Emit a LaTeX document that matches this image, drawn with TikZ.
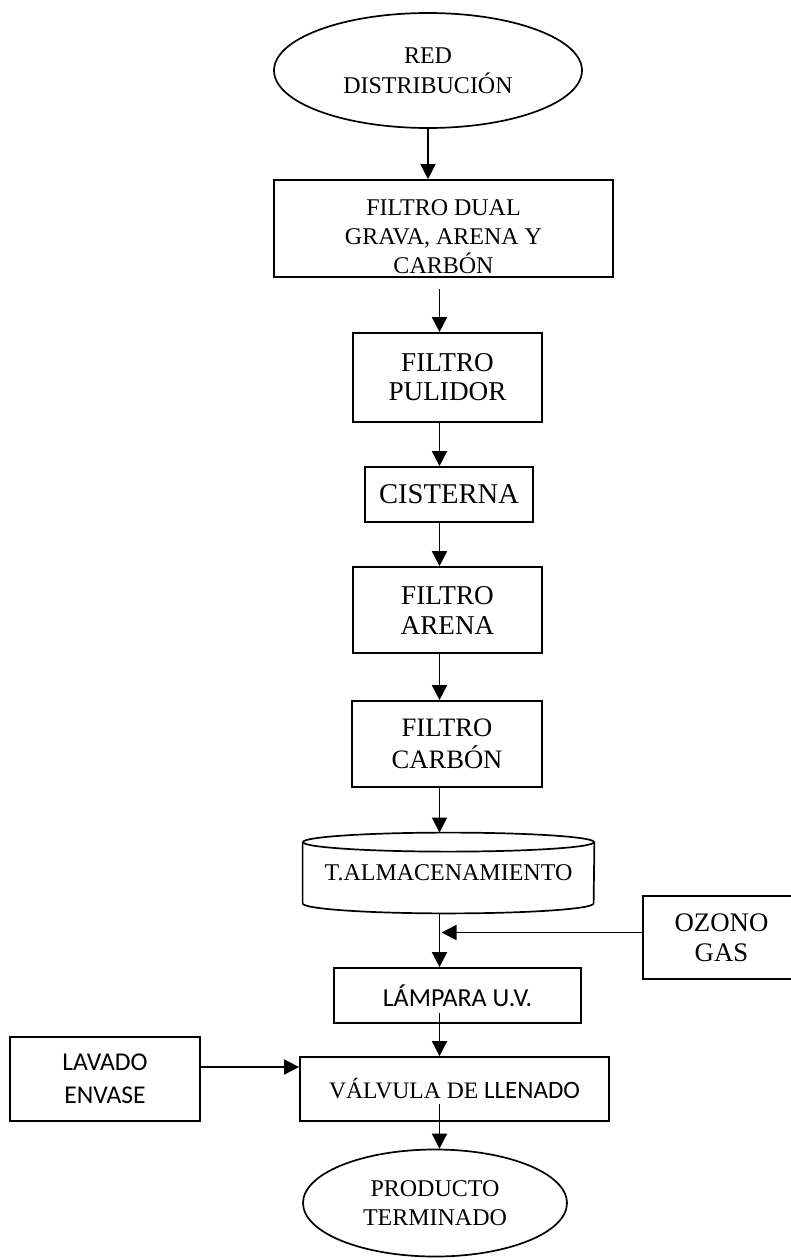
\documentclass[tikz,border=0pt]{standalone}
\usepackage{fontspec}
\setmainfont{Liberation Serif}
\newfontfamily\calibri{Carlito}
\usetikzlibrary{shapes,arrows.meta,calc}
\tikzset{
	caja/.style={draw, rectangle, line width=0.85pt, align=center, inner sep=0pt},
	elipse/.style={draw, ellipse, line width=0.85pt, align=center, inner sep=0pt},
	tam/.style 2 args={font=\fontsize{#1}{#2}\selectfont},
	sans/.style 2 args={font=\fontsize{#1}{#2}\selectfont\calibri},
	flecha/.style={line width=0.8pt, -{Triangle[width=7.5pt,length=7.5pt]}}
}

\begin{document}
\begin{tikzpicture}[x=0.5pt,y=0.5pt]
		\useasboundingbox (0,0) rectangle (791,-1260);
		
		\node[elipse, tam={12}{15}, minimum width=154pt, minimum height=57.5pt] (red) at (428,-70.5) {RED\\DISTRIBUCIÓN};
		\node[caja, minimum width=169.5pt, minimum height=48.5pt] (dual) at (443.5,-228.5) {};
		\begin{scope}
			\clip (dual.north west) rectangle (dual.south east);
			\node[align=center, tam={12}{14.5}] (dualtxt) at (443.5,-237) {FILTRO DUAL\\GRAVA, ARENA Y\\CARBÓN};
		\end{scope}
		\node[caja, tam={13.6}{14.5}, minimum width=94.5pt, minimum height=44.5pt] (pul) at (447.5,-377.5) {FILTRO\\PULIDOR};
		\node[caja, tam={14.3}{16}, minimum width=84pt, minimum height=27.5pt] (cis) at (449,-494.5) {CISTERNA};
		\node[caja, tam={13.6}{15}, minimum width=94.5pt, minimum height=43pt] (are) at (447.5,-610) {FILTRO\\ARENA};
		\node[caja, tam={13.3}{16}, minimum width=95pt, minimum height=43pt] (car) at (447,-744) {FILTRO\\CARBÓN};
		
		% tanque (cilindro)
		\node[tam={12}{15}, minimum width=145.5pt, minimum height=40pt, inner sep=0pt] (alm) at (448.5,-873) {T.ALMACENAMIENTO};
		\draw[line width=0.85pt] ([yshift=-4.75pt]alm.north) ellipse [x radius=72.75pt, y radius=4.75pt];
		\draw[line width=0.85pt] ([yshift=-4.75pt]alm.north west) -- ([yshift=5pt]alm.south west)
			arc[start angle=180, end angle=360, x radius=72.75pt, y radius=5pt] -- ([yshift=-4.75pt]alm.north east);
		
		\node[caja, tam={13.4}{15}, minimum width=78.5pt, minimum height=41.5pt] (ozo) at (721.5,-937.5) {OZONO\\GAS};
		\node[caja, sans={13}{16}, minimum width=123.5pt, minimum height=27.5pt] (lam) at (457.5,-995.5) {LÁMPARA U.V.};
		\node[caja, tam={11.8}{15}, minimum width=154.5pt, minimum height=32pt] (val) at (454.5,-1089) {VÁLVULA DE {\calibri\fontsize{12.5}{15}\selectfont LLENADO}};
		\node[caja, sans={12.8}{16.5}, minimum width=95pt, minimum height=42pt] (lav) at (105,-1079) {LAVADO\\ENVASE};
		\node[elipse, tam={12}{14.5}, minimum width=132pt, minimum height=53.5pt] (pro) at (435,-1203) {PRODUCTO\\TERMINADO};
		
		\coordinate (eje) at (439.5,0);
		\coordinate (ozoin) at ([yshift=2.5pt]ozo.west);
		\coordinate (lavout) at ([yshift=6pt]lav.east);
		
		\draw[flecha] (red.south) -- (red.south |- dual.north);
		\draw[flecha, shorten <=5.5pt] (dual.south -| eje) -- (pul.north -| eje);
		\draw[flecha] (pul.south -| eje) -- (cis.north -| eje);
		\draw[flecha] (cis.south -| eje) -- (are.north -| eje);
		\draw[flecha] (are.south -| eje) -- (car.north -| eje);
		\draw[flecha] (car.south -| eje) -- (alm.north -| eje);
		\draw[flecha] (alm.south -| eje) -- (lam.north -| eje);
		\draw[flecha] (ozoin) -- ([xshift=1pt]ozoin -| eje);
		\draw[flecha, shorten <=-5.5pt] (lam.south -| eje) -- (val.north -| eje);
		\draw[flecha] (lavout) -- (lavout -| val.west);
		\draw[flecha, shorten <=-9pt] (val.south -| eje) -- (pro.north -| eje);
\end{tikzpicture}
\end{document}
